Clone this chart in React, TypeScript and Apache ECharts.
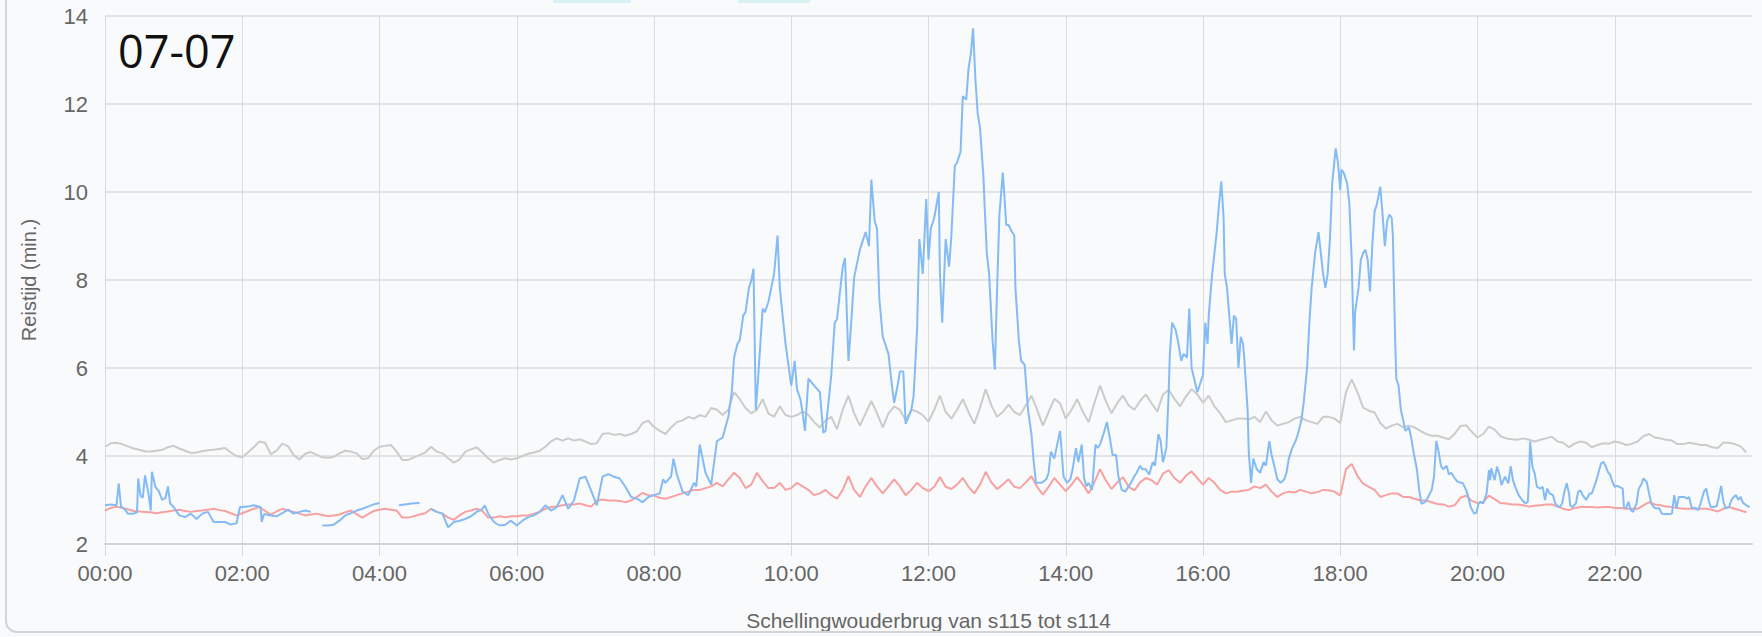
import React, { useEffect, useRef } from "react";
import * as echarts from "echarts";

// x positions (minutes after midnight) for the 5-minute series
const stepMinutes = 5;

// Grey line, 5-minute values, one row per hour (00:00 .. 23:55)
const greyValues = [
  4.21, 4.29, 4.3, 4.27, 4.22, 4.17, 4.14, 4.11, 4.1, 4.12, 4.14, 4.2,
  4.23, 4.17, 4.12, 4.07, 4.08, 4.11, 4.13, 4.14, 4.16, 4.18, 4.08, 4.0,
  3.97, 4.08, 4.2, 4.33, 4.3, 4.04, 4.12, 4.28, 4.22, 4.02, 3.92, 4.05,
  4.09, 4.03, 3.97, 3.96, 3.98, 4.06, 4.12, 4.1, 4.06, 3.93, 3.95, 4.12,
  4.21, 4.23, 4.25, 4.1, 3.91, 3.91, 3.97, 4.02, 4.08, 4.21, 4.1, 4.06,
  3.95, 3.85, 3.92, 4.1, 4.15, 4.2, 4.08, 3.95, 3.85, 3.91, 3.95, 3.92,
  3.95, 4.0, 4.05, 4.08, 4.12, 4.21, 4.33, 4.4, 4.35, 4.4, 4.35, 4.38,
  4.33, 4.27, 4.29, 4.5, 4.52, 4.48, 4.5, 4.46, 4.5, 4.56, 4.75, 4.8,
  4.66, 4.57, 4.5, 4.65, 4.77, 4.81, 4.89, 4.85, 4.93, 4.89, 5.09, 5.05,
  4.93, 5.05, 5.45, 5.29, 5.09, 4.97, 5.05, 5.29, 4.97, 4.89, 5.13, 4.93,
  4.89, 4.93, 5.01, 4.93, 4.77, 4.65, 4.81, 4.89, 4.61, 5.05, 5.37, 4.97,
  4.69, 4.97, 5.25, 4.97, 4.65, 4.97, 5.13, 5.05, 4.81, 5.05, 5.01, 4.93,
  4.78, 5.05, 5.37, 5.0, 4.85, 5.05, 5.29, 5.0, 4.73, 5.1, 5.52, 5.15,
  4.89, 5.0, 5.17, 5.0, 4.93, 5.15, 5.37, 5.05, 4.69, 5.0, 5.3, 5.2,
  4.85, 5.05, 5.29, 5.0, 4.77, 5.2, 5.6, 5.25, 4.97, 5.2, 5.37, 5.15,
  5.05, 5.25, 5.4, 5.2, 5.01, 5.4, 5.5, 5.3, 5.13, 5.35, 5.52, 5.4,
  5.21, 5.37, 5.13, 4.97, 4.77, 4.81, 4.85, 4.85, 4.83, 4.89, 4.77, 5.01,
  4.81, 4.69, 4.73, 4.77, 4.85, 4.89, 4.81, 4.77, 4.73, 4.89, 4.89, 4.85,
  4.75, 5.45, 5.74, 5.45, 5.1, 5.03, 4.99, 4.75, 4.62, 4.69, 4.73, 4.65,
  4.69, 4.65, 4.57, 4.5, 4.46, 4.46, 4.42, 4.38, 4.5, 4.68, 4.7, 4.55,
  4.42, 4.5, 4.67, 4.6, 4.45, 4.4, 4.38, 4.37, 4.4, 4.37, 4.33, 4.37,
  4.4, 4.44, 4.33, 4.3, 4.2, 4.28, 4.33, 4.3, 4.2, 4.25, 4.29, 4.28,
  4.33, 4.3, 4.25, 4.28, 4.33, 4.45, 4.5, 4.42, 4.4, 4.37, 4.35, 4.27,
  4.27, 4.3, 4.28, 4.25, 4.25, 4.2, 4.18, 4.3, 4.3, 4.27, 4.22, 4.08,
];

// Red line, 5-minute values, one row per hour
const redValues = [
  2.76, 2.82, 2.85, 2.82, 2.79, 2.75, 2.74, 2.73, 2.72, 2.7, 2.72, 2.74,
  2.76, 2.78, 2.75, 2.73, 2.75, 2.76, 2.78, 2.8, 2.77, 2.75, 2.7, 2.65,
  2.7, 2.75, 2.8, 2.84, 2.75, 2.67, 2.74, 2.8, 2.76, 2.73, 2.69, 2.65,
  2.67, 2.69, 2.66, 2.63, 2.65, 2.67, 2.72, 2.76, 2.68, 2.6, 2.68, 2.75,
  2.78, 2.8, 2.78, 2.76, 2.6, 2.6, 2.63, 2.67, 2.7, 2.8, 2.73, 2.69,
  2.6, 2.55, 2.65, 2.73, 2.76, 2.8, 2.75, 2.6, 2.6, 2.63, 2.61, 2.63,
  2.63, 2.65, 2.65, 2.69, 2.73, 2.8, 2.84, 2.85, 2.88, 2.9, 2.9, 2.92,
  2.88, 2.85, 2.98, 3.01, 2.99, 2.99, 2.98, 2.95, 2.99, 3.07, 3.16, 3.11,
  3.1, 3.05, 3.03, 3.07, 3.11, 3.15, 3.19, 3.23, 3.23, 3.27, 3.31, 3.39,
  3.31, 3.47, 3.62, 3.5, 3.27, 3.35, 3.62, 3.43, 3.27, 3.27, 3.39, 3.23,
  3.27, 3.39, 3.31, 3.23, 3.11, 3.15, 3.23, 3.11, 3.03, 3.23, 3.54, 3.23,
  3.07, 3.31, 3.5, 3.31, 3.15, 3.31, 3.47, 3.31, 3.11, 3.23, 3.39, 3.27,
  3.2, 3.3, 3.52, 3.3, 3.25, 3.35, 3.5, 3.3, 3.15, 3.35, 3.64, 3.4,
  3.25, 3.35, 3.47, 3.3, 3.27, 3.4, 3.54, 3.3, 3.12, 3.3, 3.5, 3.35,
  3.2, 3.35, 3.52, 3.35, 3.15, 3.4, 3.7, 3.45, 3.25, 3.4, 3.52, 3.3,
  3.22, 3.4, 3.5, 3.45, 3.35, 3.6, 3.68, 3.5, 3.39, 3.55, 3.65, 3.5,
  3.35, 3.5, 3.39, 3.23, 3.15, 3.19, 3.19, 3.21, 3.23, 3.31, 3.27, 3.35,
  3.19, 3.07, 3.15, 3.19, 3.17, 3.23, 3.19, 3.15, 3.18, 3.23, 3.22, 3.19,
  3.1, 3.7, 3.82, 3.55, 3.37, 3.3, 3.23, 3.07, 3.11, 3.15, 3.15, 3.07,
  3.07, 3.03, 2.99, 2.99, 2.95, 2.91, 2.9, 2.85, 2.88, 3.05, 3.1, 2.98,
  2.93, 2.95, 3.1, 3.02, 2.93, 2.92, 2.9, 2.9, 2.88, 2.85, 2.87, 2.88,
  2.9, 2.9, 2.85, 2.8, 2.77, 2.82, 2.84, 2.84, 2.84, 2.83, 2.84, 2.84,
  2.82, 2.82, 2.8, 2.8, 2.8, 2.88, 2.95, 2.9, 2.88, 2.85, 2.84, 2.82,
  2.8, 2.8, 2.8, 2.8, 2.8, 2.78, 2.74, 2.8, 2.84, 2.8, 2.76, 2.72,
];

// Blue line readings: [minute after midnight, minutes of travel time]; null = gap
const blueNight = [
  [0, 2.88], [5, 2.9], [10, 2.88], [12, 3.37], [14, 2.85], [17, 2.8], [20, 2.69], [25, 2.69],
  [28, 2.72], [29, 3.49], [31, 3.1], [33, 3.05], [35, 3.56], [38, 3.15], [40, 2.76], [41, 3.64],
  [44, 3.3], [47, 3.2], [50, 3.0], [53, 3.05], [55, 3.31], [57, 2.92], [60, 2.84], [65, 2.65],
  [70, 2.61], [75, 2.69], [80, 2.57], [85, 2.69], [90, 2.73], [95, 2.5], [100, 2.5], [105, 2.5],
  [110, 2.44], [115, 2.47], [118, 2.84], [120, 2.84], [125, 2.85], [130, 2.88], [136, 2.84],
  [137, 2.5], [139, 2.68], [145, 2.65], [150, 2.63], [155, 2.7], [160, 2.78], [165, 2.69],
  [170, 2.73], [175, 2.76], [180, 2.73], [184, null], [190, 2.42], [195, 2.42], [200, 2.44],
  [205, 2.53], [210, 2.65], [215, 2.7], [220, 2.76], [225, 2.8], [230, 2.85], [235, 2.9],
  [240, 2.93], [246, null], [257, 2.88], [262, 2.9], [268, 2.92], [275, 2.93], [280, null],
  [285, 2.8], [290, 2.73], [295, 2.69], [300, 2.38], [305, 2.5], [310, 2.53], [315, 2.57],
  [320, 2.63], [325, 2.73], [330, 2.8], [332, 2.88], [335, 2.69], [340, 2.5], [345, 2.42],
  [350, 2.44], [355, 2.53], [360, 2.42], [365, 2.53], [370, 2.61], [375, 2.65], [380, 2.73],
  [385, 2.88], [390, 2.76], [395, 2.84], [400, 3.11], [405, 2.8], [410, 2.99], [415, 3.49],
  [420, 3.53], [425, 3.22], [430, 2.88], [435, 3.53], [440, 3.59], [445, 3.53], [450, 3.49],
  [455, 3.3], [460, 3.07], [465, 3.03], [470, 2.95], [475, 3.07], [480, 3.11],
];

const blueMorning = [
  [485, 3.15], [488, 3.47], [490, 3.39], [495, 3.54], [497, 3.94], [500, 3.58], [505, 3.19],
  [510, 3.11], [515, 3.39], [517, 3.31], [520, 4.26], [525, 3.62], [530, 3.35], [535, 4.34],
  [540, 4.42], [545, 4.89], [548, 5.45], [550, 6.24], [553, 6.55], [555, 6.63], [558, 7.19],
  [560, 7.27], [563, 7.82], [565, 7.98], [567, 8.26], [569, 5.05], [571, 5.76], [575, 7.35],
  [577, 7.27], [580, 7.5], [585, 8.14], [588, 9.01], [590, 7.82], [595, 6.55], [600, 5.6],
  [603, 6.16], [605, 5.52], [608, 5.29], [610, 4.97], [612, 4.57], [615, 5.76], [620, 5.6],
  [625, 5.45], [628, 4.53], [630, 4.57], [635, 5.84], [638, 7.03], [640, 7.11], [645, 8.3],
  [647, 8.5], [650, 6.16], [652, 6.87], [655, 8.06], [660, 8.69], [665, 9.09], [668, 8.77],
  [670, 10.28], [673, 9.33], [675, 9.17], [677, 7.58], [680, 6.71], [685, 6.32], [688, 5.6],
  [690, 5.21], [693, 5.6], [695, 5.92], [698, 5.92], [700, 4.73], [705, 5.05], [707, 5.37],
  [710, 6.87], [712, 8.93], [715, 8.14], [718, 9.84],
];

const blueMidday = [
  [720, 8.46], [722, 9.17], [725, 9.41], [729, 10.0], [730, 8.14], [732, 7.03], [735, 8.93],
  [738, 8.3], [740, 9.01], [743, 10.59], [745, 10.67], [748, 10.91], [750, 12.18], [753, 12.1],
  [755, 12.81], [757, 13.13], [759, 13.72], [761, 12.57], [763, 11.78], [765, 11.47],
  [768, 10.36], [769, 9.72], [771, 8.61], [773, 8.14], [776, 6.63], [778, 5.96], [780, 7.82],
  [782, 9.49], [785, 10.44], [786, 10.04], [788, 9.25], [790, 9.25], [793, 9.09], [795, 9.01],
  [796, 7.82], [799, 6.63], [801, 6.16], [804, 6.08], [805, 5.76], [807, 5.05], [810, 4.5],
  [812, 3.86], [814, 3.39], [819, 3.39], [823, 3.47], [825, 3.62], [827, 4.1], [830, 3.94],
  [835, 4.57], [836, 4.26], [838, 3.54], [841, 3.39], [844, 3.47], [846, 3.7], [849, 4.18],
  [851, 3.86], [854, 4.26], [856, 3.5], [858, 3.31], [860, 3.39], [863, 3.23], [866, 4.26],
  [868, 4.18], [870, 4.26], [873, 4.5], [876, 4.77], [879, 4.34], [881, 4.02], [884, 4.02],
  [886, 3.54], [889, 3.23], [892, 3.19], [895, 3.31], [897, 3.39], [900, 3.54], [902, 3.62],
  [905, 3.78], [907, 3.7], [910, 3.7], [913, 3.58], [916, 3.86], [918, 3.78], [921, 4.5],
  [923, 4.34], [925, 3.86], [928, 4.18], [930, 5.45], [931, 6.32], [933, 7.03], [936, 6.87],
  [938, 6.63], [941, 6.16], [943, 6.32], [946, 6.24], [948, 7.35], [950, 6.0], [953, 5.68],
  [955, 5.45],
];

const blueAfternoon = [
  [960, 5.84], [962, 7.03], [964, 6.55], [965, 7.19], [968, 8.14], [970, 8.61], [972, 9.09],
  [974, 9.72], [976, 10.24], [978, 9.41], [979, 8.14], [981, 7.82], [983, 7.19], [985, 6.55],
  [987, 7.19], [989, 7.11], [991, 6.0], [993, 6.71], [995, 6.55], [996, 6.24], [999, 5.05],
  [1000, 4.1], [1002, 3.39], [1004, 3.94], [1007, 3.7], [1010, 3.62], [1013, 3.86],
  [1015, 3.78], [1018, 4.34], [1020, 4.02], [1023, 3.7], [1025, 3.47], [1028, 3.39],
  [1031, 3.47], [1033, 3.62], [1035, 3.94], [1038, 4.18], [1041, 4.34], [1043, 4.5],
  [1046, 4.81], [1048, 5.21], [1051, 6.0], [1053, 7.03], [1055, 7.82], [1058, 8.61],
  [1060, 8.93], [1061, 9.09], [1063, 8.61], [1065, 8.14], [1067, 7.82], [1069, 8.14],
  [1071, 8.93], [1073, 10.2], [1076, 10.99], [1078, 10.67], [1080, 10.04], [1081, 10.51],
  [1083, 10.44], [1086, 10.2], [1088, 9.72], [1090, 8.46], [1092, 6.4], [1093, 7.27],
  [1096, 7.82], [1098, 8.46], [1100, 8.61], [1102, 8.69], [1104, 8.46], [1106, 7.74],
  [1108, 8.77], [1110, 9.56], [1112, 9.72], [1115, 10.12], [1117, 9.49], [1119, 8.77],
  [1121, 9.33], [1123, 9.49], [1125, 9.41], [1126, 9.01], [1128, 6.63], [1129, 5.76],
  [1131, 5.6], [1133, 5.05], [1135, 4.81], [1137, 4.57], [1140, 4.65], [1142, 4.42],
  [1144, 4.1], [1147, 3.7], [1149, 3.23], [1151, 2.91], [1154, 2.95], [1156, 3.03],
  [1160, 3.23], [1162, 3.54], [1164, 4.34], [1166, 4.1], [1168, 3.78], [1170, 3.7],
  [1173, 3.78], [1175, 3.58], [1177, 3.62], [1180, 3.5], [1182, 3.43], [1185, 3.39],
  [1187, 3.39], [1190, 3.23],
];

const blueEvening = [
  [1192, 3.07], [1194, 2.84], [1197, 2.69], [1199, 2.71], [1201, 2.92], [1203, 2.96],
  [1205, 2.92], [1208, 3.15], [1210, 3.68], [1211, 3.45], [1212, 3.72], [1215, 3.45],
  [1217, 3.76], [1219, 3.6], [1221, 3.34], [1224, 3.53], [1227, 3.38], [1229, 3.77],
  [1231, 3.45], [1233, 3.3], [1236, 3.11], [1239, 3.0], [1242, 2.92], [1244, 2.96],
  [1245, 3.45], [1246, 4.33], [1248, 3.76], [1250, 3.6], [1252, 3.3], [1255, 3.26],
  [1257, 3.3], [1259, 3.0], [1261, 3.26], [1263, 3.15], [1266, 3.11], [1268, 2.92],
  [1270, 2.86], [1272, 2.84], [1274, 2.92], [1276, 3.19], [1278, 3.38], [1280, 3.15],
  [1281, 2.88], [1283, 2.84], [1286, 2.92], [1288, 3.19], [1290, 3.22], [1292, 3.11],
  [1295, 3.0], [1298, 3.15], [1300, 3.15], [1302, 3.3], [1304, 3.45], [1306, 3.64],
  [1308, 3.83], [1310, 3.87], [1312, 3.77], [1314, 3.64], [1316, 3.57], [1318, 3.41],
  [1320, 3.3], [1322, 3.32], [1324, 3.3], [1327, 3.26], [1328, 2.84], [1330, 2.81],
  [1332, 2.96], [1334, 2.77], [1336, 2.73], [1339, 2.92], [1341, 3.26], [1343, 3.34],
  [1345, 3.49], [1348, 3.41], [1350, 3.15], [1352, 2.92], [1354, 2.84], [1356, 2.81],
  [1359, 2.81], [1361, 2.69], [1363, 2.68], [1365, 2.68], [1368, 2.68], [1370, 2.69],
  [1372, 3.11], [1374, 2.81], [1376, 3.07], [1378, 3.07], [1381, 3.07], [1383, 3.03],
  [1385, 3.07], [1387, 2.84], [1389, 2.81], [1391, 2.81], [1393, 2.77], [1395, 2.92],
  [1398, 3.19], [1400, 3.26], [1402, 3.0], [1404, 2.84], [1406, 2.84], [1409, 2.86],
  [1411, 3.07], [1413, 3.32], [1415, 2.96], [1417, 2.81], [1420, 2.84], [1422, 3.0],
  [1424, 3.07], [1426, 3.11], [1428, 3.0], [1430, 3.07], [1432, 2.94], [1435, 2.88],
  [1438, 2.84],
];

const yTicks = { min: 2, max: 14, interval: 2 };
const xTicks = { min: 0, max: 1440, interval: 120 };
const dayLabel = "07-07";
const xAxisTitle = "Schellingwouderbrug van s115 tot s114";
const yAxisTitle = "Reistijd (min.)";

const W = 1762;
const H = 637;

function App() {
  const ref = useRef<HTMLDivElement>(null);

  useEffect(() => {
    if (!ref.current) return;
    const chart = echarts.init(ref.current, null, { renderer: "svg", width: W, height: H });
    const toPairs = (vals: number[]) => vals.map((v, i) => [i * stepMinutes, v]);
    const blue = [...blueNight, ...blueMorning, ...blueMidday, ...blueAfternoon, ...blueEvening];
    const labelFont = "'Liberation Sans', Arial, sans-serif";

    chart.setOption({
      animation: false,
      backgroundColor: "#f9fafb",
      title: {
        text: dayLabel,
        left: 118,
        top: 28,
        padding: 0,
        textStyle: { fontSize: 45, fontWeight: "normal", color: "#111", fontFamily: "'Open Sans', sans-serif" },
      },
      grid: { left: 105, right: 10, top: 16, bottom: 93, outerBoundsMode: "none" },
      xAxis: {
        type: "value",
        min: xTicks.min,
        max: xTicks.max,
        interval: xTicks.interval,
        name: xAxisTitle,
        nameLocation: "middle",
        nameGap: 66,
        nameTextStyle: { fontSize: 21, color: "#666", fontFamily: labelFont },
        axisLine: { show: true, lineStyle: { color: "#d2d2d2", width: 2 } },
        axisTick: { show: true, length: 12, lineStyle: { color: "#d8d8d8" } },
        axisLabel: {
          fontSize: 22,
          color: "#666",
          margin: 18,
          fontFamily: labelFont,
          showMaxLabel: false,
          formatter: (v: number) => String(Math.floor(v / 60)).padStart(2, "0") + ":00",
        },
        splitLine: { show: true, showMaxLine: false, lineStyle: { color: "#dcdcdc", width: 1 } },
      },
      yAxis: {
        type: "value",
        min: yTicks.min,
        max: yTicks.max,
        interval: yTicks.interval,
        name: yAxisTitle,
        nameLocation: "middle",
        nameRotate: 90,
        nameGap: 66,
        nameTextStyle: { fontSize: 20, color: "#666", fontFamily: labelFont },
        axisLine: { show: false },
        axisTick: { show: false },
        axisLabel: { fontSize: 22, color: "#666", margin: 17, fontFamily: labelFont },
        splitLine: { show: true, lineStyle: { color: "#e4e4e4", width: 2 } },
      },
      graphic: [
        { type: "rect", shape: { x: 553, y: 0, width: 78, height: 3 }, style: { fill: "#d8f1f4" }, silent: true },
        { type: "rect", shape: { x: 738, y: 0, width: 72, height: 3 }, style: { fill: "#d8f1f4" }, silent: true },
      ],
      series: [
        {
          type: "line",
          name: "grey",
          data: toPairs(greyValues),
          showSymbol: false,
          lineStyle: { color: "#cbcbcb", width: 2 },
          itemStyle: { color: "#cbcbcb" },
          z: 2,
        },
        {
          type: "line",
          name: "red",
          data: toPairs(redValues),
          showSymbol: false,
          lineStyle: { color: "#f7a2a2", width: 2 },
          itemStyle: { color: "#f7a2a2" },
          z: 3,
        },
        {
          type: "line",
          name: "blue",
          data: blue,
          showSymbol: false,
          connectNulls: false,
          lineStyle: { color: "#84bbf5", width: 2 },
          itemStyle: { color: "#84bbf5" },
          z: 4,
        },
      ],
    });
    return () => chart.dispose();
  }, []);

  return (
    <div style={{ position: "fixed", left: 0, top: 0, width: W, height: H, background: "#f9fafb", overflow: "hidden" }}>
      <div ref={ref} style={{ position: "absolute", left: 0, top: 0, width: W, height: H }} />
      <div
        style={{
          position: "absolute",
          left: 5,
          top: -20,
          width: W + 40,
          height: H + 16,
          border: "2px solid #d4d4d4",
          borderRadius: 12,
          boxSizing: "border-box",
          pointerEvents: "none",
        }}
      />
    </div>
  );
}

export default App;
